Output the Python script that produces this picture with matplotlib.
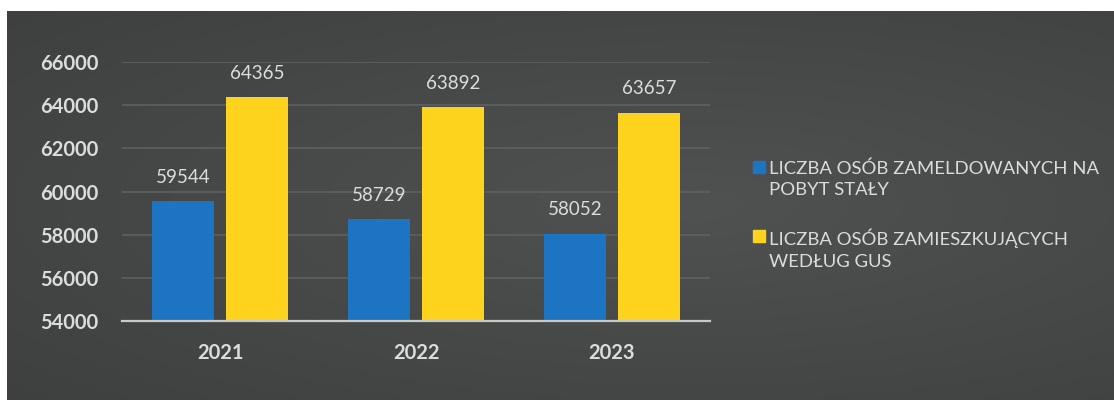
import numpy as np
import matplotlib.pyplot as plt
from matplotlib.patches import Rectangle

years = ['2021', '2022', '2023']
zameldowani = [59544, 58729, 58052]
gus = [64365, 63892, 63657]
labels = ['LICZBA OSÓB ZAMELDOWANYCH NA\nPOBYT STAŁY',
          'LICZBA OSÓB ZAMIESZKUJĄCYCH\nWEDŁUG GUS']
yticks = [54000, 56000, 58000, 60000, 62000, 64000, 66000]

blue = '#1c74c2'
yellow = '#fdd31e'
txt = '#dcdcdc'

plt.rcParams['font.family'] = ['Lato', 'DejaVu Sans']

W, H = 1114, 403
fig = plt.figure(figsize=(W / 100, H / 100), dpi=100)
fig.patch.set_facecolor('white')

# dark panel with a soft radial gradient
bg = fig.add_axes([7 / W, 3 / H, 1107 / W, 389 / H])
yy, xx = np.mgrid[0:1:200j, 0:1:400j]
r = np.sqrt(((xx - 0.62) / 0.9) ** 2 + ((yy - 0.5) / 0.8) ** 2)
r = np.clip(r, 0, 1)
c0 = np.array([0x50, 0x52, 0x52]) / 255
c1 = np.array([0x3d, 0x3f, 0x3f]) / 255
img = c0[None, None, :] * (1 - r[..., None]) + c1[None, None, :] * r[..., None]
bg.imshow(img, aspect='auto', extent=[0, 1, 0, 1])
bg.axis('off')

ax = fig.add_axes([122 / W, 1 - 321 / H, 588 / W, 259 / H])
ax.patch.set_alpha(0)

x = np.arange(len(years))
w = 0.316
off = 0.189
b1 = ax.bar(x - off, zameldowani, w, color=blue, zorder=3)
b2 = ax.bar(x + off, gus, w, color=yellow, zorder=3)

for bars in (b1, b2):
    for rect in bars:
        ax.annotate(str(int(rect.get_height())),
                    (rect.get_x() + rect.get_width() / 2, rect.get_height()),
                    xytext=(0, 11), textcoords='offset points',
                    ha='center', va='bottom', color=txt, fontsize=13.5)

ax.set_xlim(-0.5, 2.5)
ax.set_ylim(54000, 66000)
ax.set_yticks(yticks)
ax.set_yticklabels([str(v) for v in yticks])
ax.set_xticks(x)
ax.set_xticklabels(years)
ax.yaxis.grid(True, color='#5f6161', lw=1.2, zorder=0)
ax.set_axisbelow(True)
for s in ['top', 'right', 'left']:
    ax.spines[s].set_visible(False)
ax.spines['bottom'].set_color('#c8cac8')
ax.spines['bottom'].set_linewidth(1.6)
ax.spines['bottom'].set_zorder(4)
ax.tick_params(axis='y', length=0, pad=17, labelsize=14.5, labelcolor=txt)
ax.tick_params(axis='x', length=0, pad=16, labelsize=14.5, labelcolor=txt)
for t in ax.get_yticklabels() + ax.get_xticklabels():
    t.set_fontweight('bold')

# legend drawn by hand: square next to the first line of each label
for lab, col, top in zip(labels, [blue, yellow], [160, 229]):
    fig.patches.append(Rectangle((753 / W, 1 - (top + 13) / H), 12 / W, 12 / H,
                                 transform=fig.transFigure, color=col))
    fig.text(769 / W, 1 - top / H, lab, ha='left', va='top', color=txt,
             fontsize=13.3, linespacing=1.45)

fig.savefig('out.png', dpi=100, facecolor='white')
